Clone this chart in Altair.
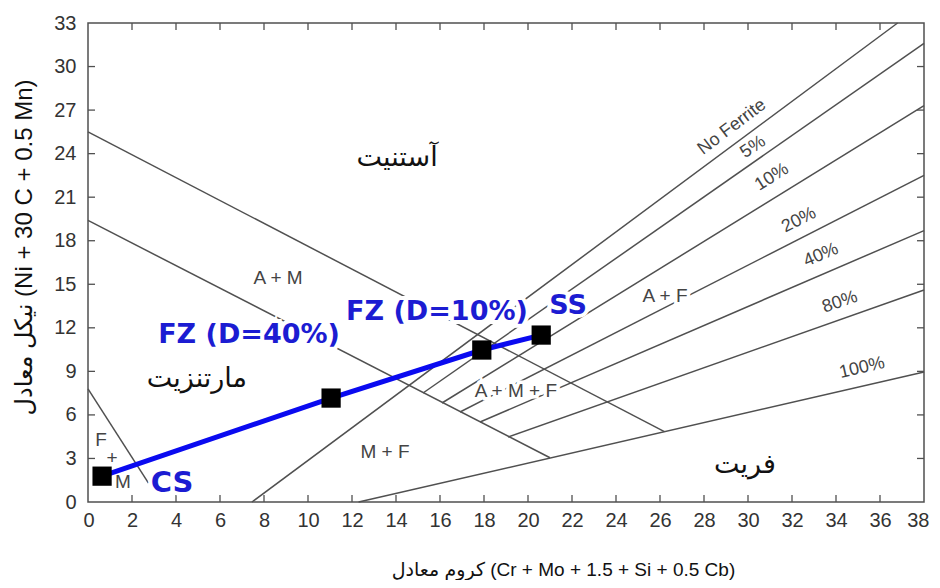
import altair as alt
import pandas as pd

# ---------------- data ----------------
# phase-boundary and iso-ferrite lines (Cr eq, Ni eq) start -> end
line_names = ["A/A+M", "A+M/M", "F+M/M", "No Ferrite", "5%", "10%", "20%", "40%", "80%", "100%"]
line_x1 = [0.0, 0.0, 0.0, 7.45, 15.23, 16.09, 16.91, 17.82, 19.09, 12.3]
line_y1 = [25.5, 19.4, 7.8, 0.0, 7.51, 6.82, 6.20, 5.51, 4.48, 0.0]
line_x2 = [26.2, 21.0, 2.75, 36.8, 38.0, 38.0, 38.0, 38.0, 38.0, 38.0]
line_y2 = [4.85, 3.05, 1.3, 33.0, 31.6, 27.3, 22.5, 18.7, 14.6, 8.95]

# weld points (CS -> FZ 40% -> FZ 10% -> SS)
pt_names = ["CS", "FZ (D=40%)", "FZ (D=10%)", "SS"]
pt_x = [0.64, 11.05, 17.9, 20.6]
pt_y = [1.78, 7.16, 10.47, 11.5]

# blue labels of the weld points
blue_text = ["CS", "FZ (D=40%)", "FZ (D=10%)", "SS"]
blue_x = [3.82, 7.32, 15.86, 21.82]
blue_y = [1.31, 11.5, 13.09, 13.5]
blue_size = [29, 27, 27, 27]

# iso-ferrite labels (rotated along the lines)
fer_text = ["No Ferrite", "5%", "10%", "20%", "40%", "80%", "100%"]
fer_x = [29.27, 30.23, 31.09, 32.32, 33.32, 34.18, 35.18]
fer_y = [25.83, 24.45, 22.38, 19.42, 17.01, 13.77, 9.23]
fer_angle = [323, 326, 328, 333, 337, 341, 347]

# phase-region labels (Latin)
reg_text = ["A + M", "A + F", "A + M + F", "M + F", "F", "+", "M"]
reg_x = [8.64, 26.23, 19.45, 13.5, 0.59, 1.09, 1.59]
reg_y = [15.43, 14.19, 7.64, 3.44, 4.27, 3.03, 1.38]
reg_halo = [False, True, True, False, False, False, False]

# phase-region labels (Persian)
fa_text = ["آستنیت", "مارتنزیت", "فریت"]
fa_x = [14.05, 4.95, 29.86]
fa_y = [23.7, 8.5, 2.55]

x_ticks = list(range(0, 39, 2))
y_ticks = list(range(0, 34, 3))

x_title = "کروم معادل (Cr + Mo + 1.5 + Si + 0.5 Cb)"
y_title = "نیکل معادل (Ni + 30 C + 0.5 Mn)"

# ---------------- tables ----------------
lines_df = pd.DataFrame({"name": line_names, "x1": line_x1, "y1": line_y1,
                         "x2": line_x2, "y2": line_y2})
pts_df = pd.DataFrame({"name": pt_names, "x": pt_x, "y": pt_y, "order": range(len(pt_names))})
blue_df = pd.DataFrame({"t": blue_text, "x": blue_x, "y": blue_y, "s": blue_size})
fer_df = pd.DataFrame({"t": fer_text, "x": fer_x, "y": fer_y, "a": fer_angle})
reg_df = pd.DataFrame({"t": reg_text, "x": reg_x, "y": reg_y, "halo": reg_halo})
fa_df = pd.DataFrame({"t": fa_text, "x": fa_x, "y": fa_y})
xt_df = pd.DataFrame({"v": x_ticks[1:-1]})
yt_df = pd.DataFrame({"v": y_ticks[1:-1]})

W, H = 836, 479
xs = alt.Scale(domain=[0, 38], nice=False, zero=False)
ys = alt.Scale(domain=[0, 33], nice=False, zero=False)
LAT = "Liberation Sans"
TITLE_FONT = "Liberation Sans, DejaVu Sans"
GRAY = "#505050"
BLUE_LINE = "#0a0af0"
BLUE_TXT = "#1c1cd2"

X_AX = alt.Axis(values=x_ticks, title=x_title, labelFontSize=20, labelPadding=8,
                labelFlush=True, labelFlushOffset=5,
                titleFontSize=19, titleFontWeight="normal", titleX=475, titleY=67,
                titleBaseline="middle", titleAlign="center", titleFont=TITLE_FONT)
Y_AX = alt.Axis(values=y_ticks, title=y_title, labelFontSize=20, labelPadding=12,
                labelFlush=False,
                titleFontSize=24, titleFontWeight="normal", titleX=-64, titleY=224,
                titleAngle=270, titleBaseline="middle", titleAlign="center",
                titleFont=TITLE_FONT)


def X(f):
    return alt.X(f, scale=xs, axis=X_AX)


def Y(f):
    return alt.Y(f, scale=ys, axis=Y_AX)


base_lines = alt.Chart(lines_df).mark_rule(color=GRAY, strokeWidth=1.5).encode(
    x=X("x1:Q"), y=Y("y1:Q"), x2="x2:Q", y2="y2:Q")

tick_b = alt.Chart(xt_df).mark_rule(color=GRAY, strokeWidth=1.3).encode(
    x=X("v:Q"), y=alt.value(H), y2=alt.value(H - 7))
tick_t = alt.Chart(xt_df).mark_rule(color=GRAY, strokeWidth=1.3).encode(
    x=X("v:Q"), y=alt.value(0), y2=alt.value(7))
tick_l = alt.Chart(yt_df).mark_rule(color=GRAY, strokeWidth=1.3).encode(
    y=Y("v:Q"), x=alt.value(0), x2=alt.value(7))
tick_r = alt.Chart(yt_df).mark_rule(color=GRAY, strokeWidth=1.3).encode(
    y=Y("v:Q"), x=alt.value(W - 7), x2=alt.value(W))

# white halos that cut the thin lines behind some labels
blue_halo = alt.Chart(blue_df).mark_text(font="DejaVu Sans", fontWeight="bold",
                                         color="white", stroke="white", strokeWidth=8).encode(
    x=X("x:Q"), y=Y("y:Q"), text="t:N", size=alt.Size("s:Q", scale=None, legend=None))
reg_halo_l = alt.Chart(reg_df).transform_filter("datum.halo").mark_text(
    font=LAT, fontSize=19, color="white", stroke="white", strokeWidth=7).encode(
    x=X("x:Q"), y=Y("y:Q"), text="t:N")

blue_line = alt.Chart(pts_df).mark_line(color=BLUE_LINE, strokeWidth=5).encode(
    x=X("x:Q"), y=Y("y:Q"), order="order:Q")
squares = alt.Chart(pts_df).mark_point(shape="square", filled=True, color="black",
                                       opacity=1, size=370).encode(
    x=X("x:Q"), y=Y("y:Q"))

blue_lbl = alt.Chart(blue_df).mark_text(font="DejaVu Sans", fontWeight="bold", color=BLUE_TXT).encode(
    x=X("x:Q"), y=Y("y:Q"), text="t:N", size=alt.Size("s:Q", scale=None, legend=None))

fer_lbl = alt.Chart(fer_df).mark_text(font=LAT, fontSize=18, color="#444").encode(
    x=X("x:Q"), y=Y("y:Q"), text="t:N", angle=alt.Angle("a:Q", scale=None))

reg_lbl = alt.Chart(reg_df).mark_text(font=LAT, fontSize=19, color="#444").encode(
    x=X("x:Q"), y=Y("y:Q"), text="t:N")

fa_lbl = alt.Chart(fa_df).mark_text(font="DejaVu Sans", fontSize=27, color="#111").encode(
    x=X("x:Q"), y=Y("y:Q"), text="t:N")

chart = alt.layer(
    base_lines, tick_b, tick_t, tick_l, tick_r,
    blue_halo, reg_halo_l, blue_line, squares,
    blue_lbl, fer_lbl, reg_lbl, fa_lbl,
).properties(
    width=W, height=H,
    padding={"left": 80, "top": 15, "right": 8, "bottom": 78},
    autosize=alt.AutoSizeParams(type="none"),
    background="white",
).configure_view(
    stroke=GRAY, strokeWidth=1.5
).configure_axis(
    grid=False, ticks=False, domain=False, labelFont=LAT, labelColor="#333",
    titleColor="#111",
)

chart.save("out.html", embed_options={"renderer": "svg", "actions": False})
